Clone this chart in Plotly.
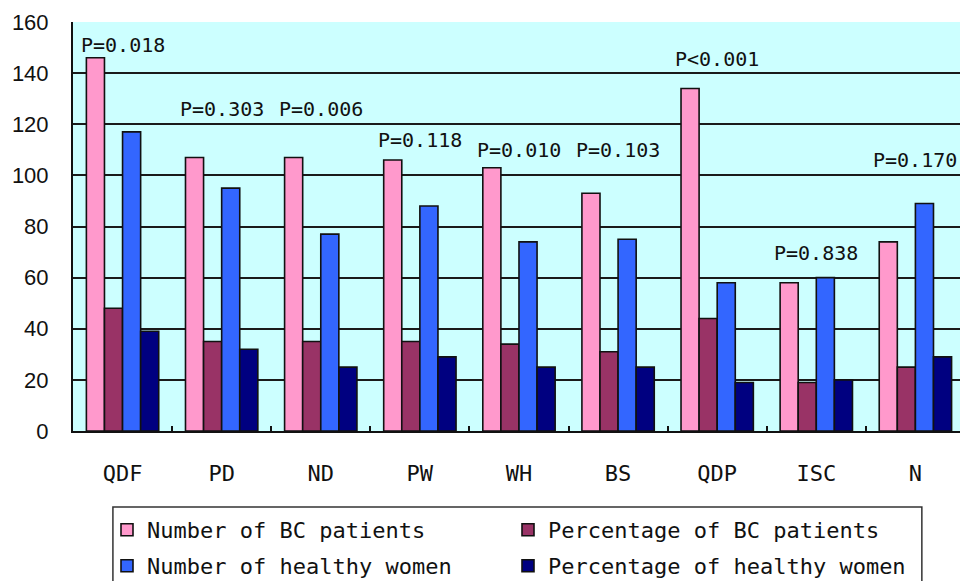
import plotly.graph_objects as go

# Factor categories along the x axis
categories = ["QDF", "PD", "ND", "PW", "WH", "BS", "QDP", "ISC", "N"]

# Counts and percentages per factor
bc_patients_n = [146, 107, 107, 106, 103, 93, 134, 58, 74]
bc_patients_pct = [48, 35, 35, 35, 34, 31, 44, 19, 25]
healthy_women_n = [117, 95, 77, 88, 74, 75, 58, 60, 89]
healthy_women_pct = [39, 32, 25, 29, 25, 25, 19, 20, 29]

# P-value of the comparison for each factor
p_values = ["P=0.018", "P=0.303", "P=0.006", "P=0.118", "P=0.010",
            "P=0.103", "P<0.001", "P=0.838", "P=0.170"]

y_ticks = [0, 20, 40, 60, 80, 100, 120, 140, 160]

MONO = "DejaVu Sans Mono"
OUTLINE = dict(color="#111111", width=1.6)

series = [
    ("Number of BC patients", bc_patients_n, "#FF99CC", "legend"),
    ("Percentage of BC patients", bc_patients_pct, "#993366", "legend"),
    ("Number of healthy women", healthy_women_n, "#3366FF", "legend2"),
    ("Percentage of healthy women", healthy_women_pct, "#000080", "legend2"),
]

fig = go.Figure()
for name, vals, color, leg in series:
    fig.add_trace(go.Bar(
        x=categories, y=vals, name=name, legend=leg,
        marker=dict(color=color, line=OUTLINE),
    ))

# heights (in axis units) at which the p-value labels sit
label_heights = [151, 126, 126, 114, 110, 110, 145.5, 69.6, 106]
for cat, txt, h in zip(categories, p_values, label_heights):
    fig.add_annotation(x=cat, y=h, text=txt, showarrow=False,
                       xanchor="center", yanchor="middle",
                       font=dict(family=MONO, size=20, color="#111111"))

# frame around the two-row legend
fig.add_shape(type="rect", xref="paper", yref="paper",
              x0=0.045, x1=0.957, y0=-0.40, y1=-0.186,
              line=dict(color="#333333", width=1.5), fillcolor="rgba(0,0,0,0)")

legend_common = dict(
    orientation="h", xref="container", yref="container",
    xanchor="left", yanchor="middle", x=107 / 960,
    entrywidth=356, entrywidthmode="pixels",
    font=dict(family=MONO, size=22, color="#111111"),
    bgcolor="rgba(0,0,0,0)", borderwidth=0,
    itemclick=False, itemdoubleclick=False,
)

fig.update_layout(
    width=960, height=581,
    margin=dict(l=73, r=0, t=22, b=150),
    paper_bgcolor="white",
    plot_bgcolor="#CCFFFF",
    barmode="group",
    bargap=0.27,
    bargroupgap=0,
    legend=dict(legend_common, y=1 - 530 / 581),
    legend2=dict(legend_common, y=1 - 566 / 581),
    xaxis=dict(
        type="category",
        range=[-0.5, 8.45],
        showgrid=False,
        showline=True, linecolor="#111111", linewidth=2,
        ticks="inside", tickson="boundaries", ticklen=5,
        tickcolor="#111111", tickwidth=1.5,
        ticklabelstandoff=22,
        tickfont=dict(family=MONO, size=22, color="#111111"),
    ),
    yaxis=dict(
        range=[0, 160],
        tickvals=y_ticks,
        showgrid=True, gridcolor="#1a1a1a", gridwidth=1.6,
        zeroline=False,
        showline=True, linecolor="#111111", linewidth=2,
        ticks="", ticklabelstandoff=18,
        tickfont=dict(family="Liberation Sans", size=22, color="#111111"),
    ),
)

fig.write_html("out.html")
